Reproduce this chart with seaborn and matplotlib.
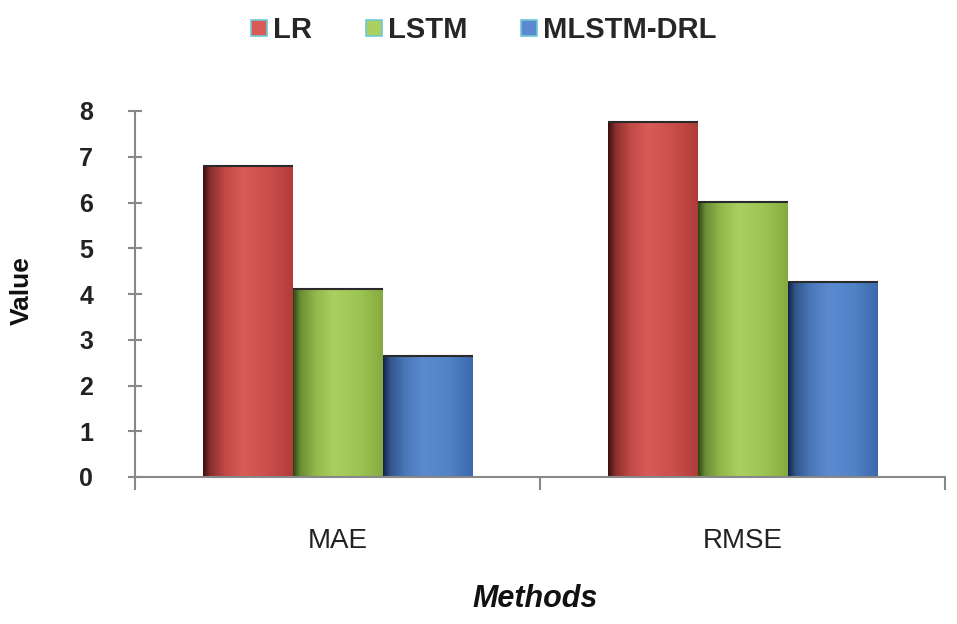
import numpy as np
import pandas as pd
import seaborn as sns
import matplotlib.pyplot as plt
from matplotlib.colors import LinearSegmentedColormap
from matplotlib.lines import Line2D

# ---- data ----
metrics = ["MAE", "RMSE"]
models = ["LR", "LSTM", "MLSTM-DRL"]
lr_vals = [6.80, 7.76]
lstm_vals = [4.11, 6.01]
mlstm_vals = [2.64, 4.26]
y_ticks = [0, 1, 2, 3, 4, 5, 6, 7, 8]

df = pd.DataFrame({
    "Methods": metrics * 3,
    "Model": [models[0]] * 2 + [models[1]] * 2 + [models[2]] * 2,
    "Value": lr_vals + lstm_vals + mlstm_vals,
})

base_colors = {"LR": "#c0504d", "LSTM": "#9bbb59", "MLSTM-DRL": "#4f81bd"}
grad_stops = {
    "LR": ["#3a1010", "#8a2e2c", "#c24a47", "#d95b58", "#c94d4a", "#b03c3a"],
    "LSTM": ["#2c4414", "#6a8c34", "#92b84c", "#a9d060", "#9cc453", "#86aa40"],
    "MLSTM-DRL": ["#10234a", "#32558c", "#4a78b8", "#5b8ad0", "#5082c6", "#3c68ac"],
}

sns.set_theme(style="white")
plt.rcParams['font.family'] = ['Liberation Sans', 'DejaVu Sans']

fig = plt.figure(figsize=(9.57, 6.24), dpi=100)
ax = fig.add_axes([135 / 957, 1 - 477 / 624, 810 / 957, (477 - 111) / 624])

sns.barplot(data=df, x="Methods", y="Value", hue="Model", hue_order=models,
            order=metrics, palette=base_colors, width=2 / 3, gap=0,
            saturation=1, edgecolor="none", linewidth=0, legend=False, ax=ax)

# cylindrical shading
for model, cont in zip(models, ax.containers):
    cmap = LinearSegmentedColormap.from_list(
        model, list(zip([0, 0.08, 0.25, 0.45, 0.75, 1.0], grad_stops[model])))
    grad = np.linspace(0, 1, 256).reshape(1, -1)
    for patch in cont.patches:
        x0, y0 = patch.get_x(), patch.get_y()
        w, h = patch.get_width(), patch.get_height()
        im = ax.imshow(grad, cmap=cmap, aspect="auto", extent=[x0, x0 + w, y0, y0 + h],
                       zorder=patch.get_zorder() + 0.1, interpolation="bilinear")
        im.set_clip_path(patch)
        # dark top rim
        ax.plot([x0, x0 + w], [y0 + h, y0 + h], color="#2a2a2a", lw=1.5,
                zorder=patch.get_zorder() + 0.2, solid_capstyle="butt")

ax.set_xlim(-0.5, 1.5)
ax.set_ylim(0, 8)
ax.set_yticks(y_ticks)
ax.set_yticklabels([str(t) for t in y_ticks], fontsize=18, fontweight="bold")
ax.set_xticks([0, 1])
ax.set_xticklabels(metrics, fontsize=20)
ax.set_xticks([-0.5, 0.5, 1.5], minor=True)
ax.tick_params(axis="x", which="major", bottom=True, length=0, pad=37, colors="#222222")
ax.tick_params(axis="x", which="minor", bottom=True, length=9, width=1.5,
               direction="out", color="#888888")
ax.tick_params(axis="y", which="major", left=True, length=10, width=1.5,
               direction="inout", color="#888888", pad=25, labelcolor="#222222")

for s in ["top", "right"]:
    ax.spines[s].set_visible(False)
for s in ["left", "bottom"]:
    ax.spines[s].set_color("#888888")
    ax.spines[s].set_linewidth(1.5)

ax.set_xlabel("")
ax.set_ylabel("")
fig.text(22 / 957, 1 - 291 / 624, "Value", rotation=90, ha="center", va="center",
         fontsize=19, fontweight="bold", color="#111111")
fig.text(535 / 957, 1 - 599 / 624, "Methods", ha="center", va="center",
         fontsize=22, fontweight="bold", fontstyle="italic", color="#111111")

handles = [Line2D([0], [0], marker="s", linestyle="none", markersize=12,
                  markerfacecolor=grad_stops[m][3], markeredgecolor="#6fc8d8",
                  markeredgewidth=1.2) for m in models]
fig.legend(handles, models, loc="center", bbox_to_anchor=(482 / 957, 1 - 30 / 624),
           ncol=3, frameon=False, prop={"size": 21, "weight": "bold"},
           handletextpad=0.1, columnspacing=1.7, handlelength=0.8)

fig.savefig("out.png", dpi=100)
